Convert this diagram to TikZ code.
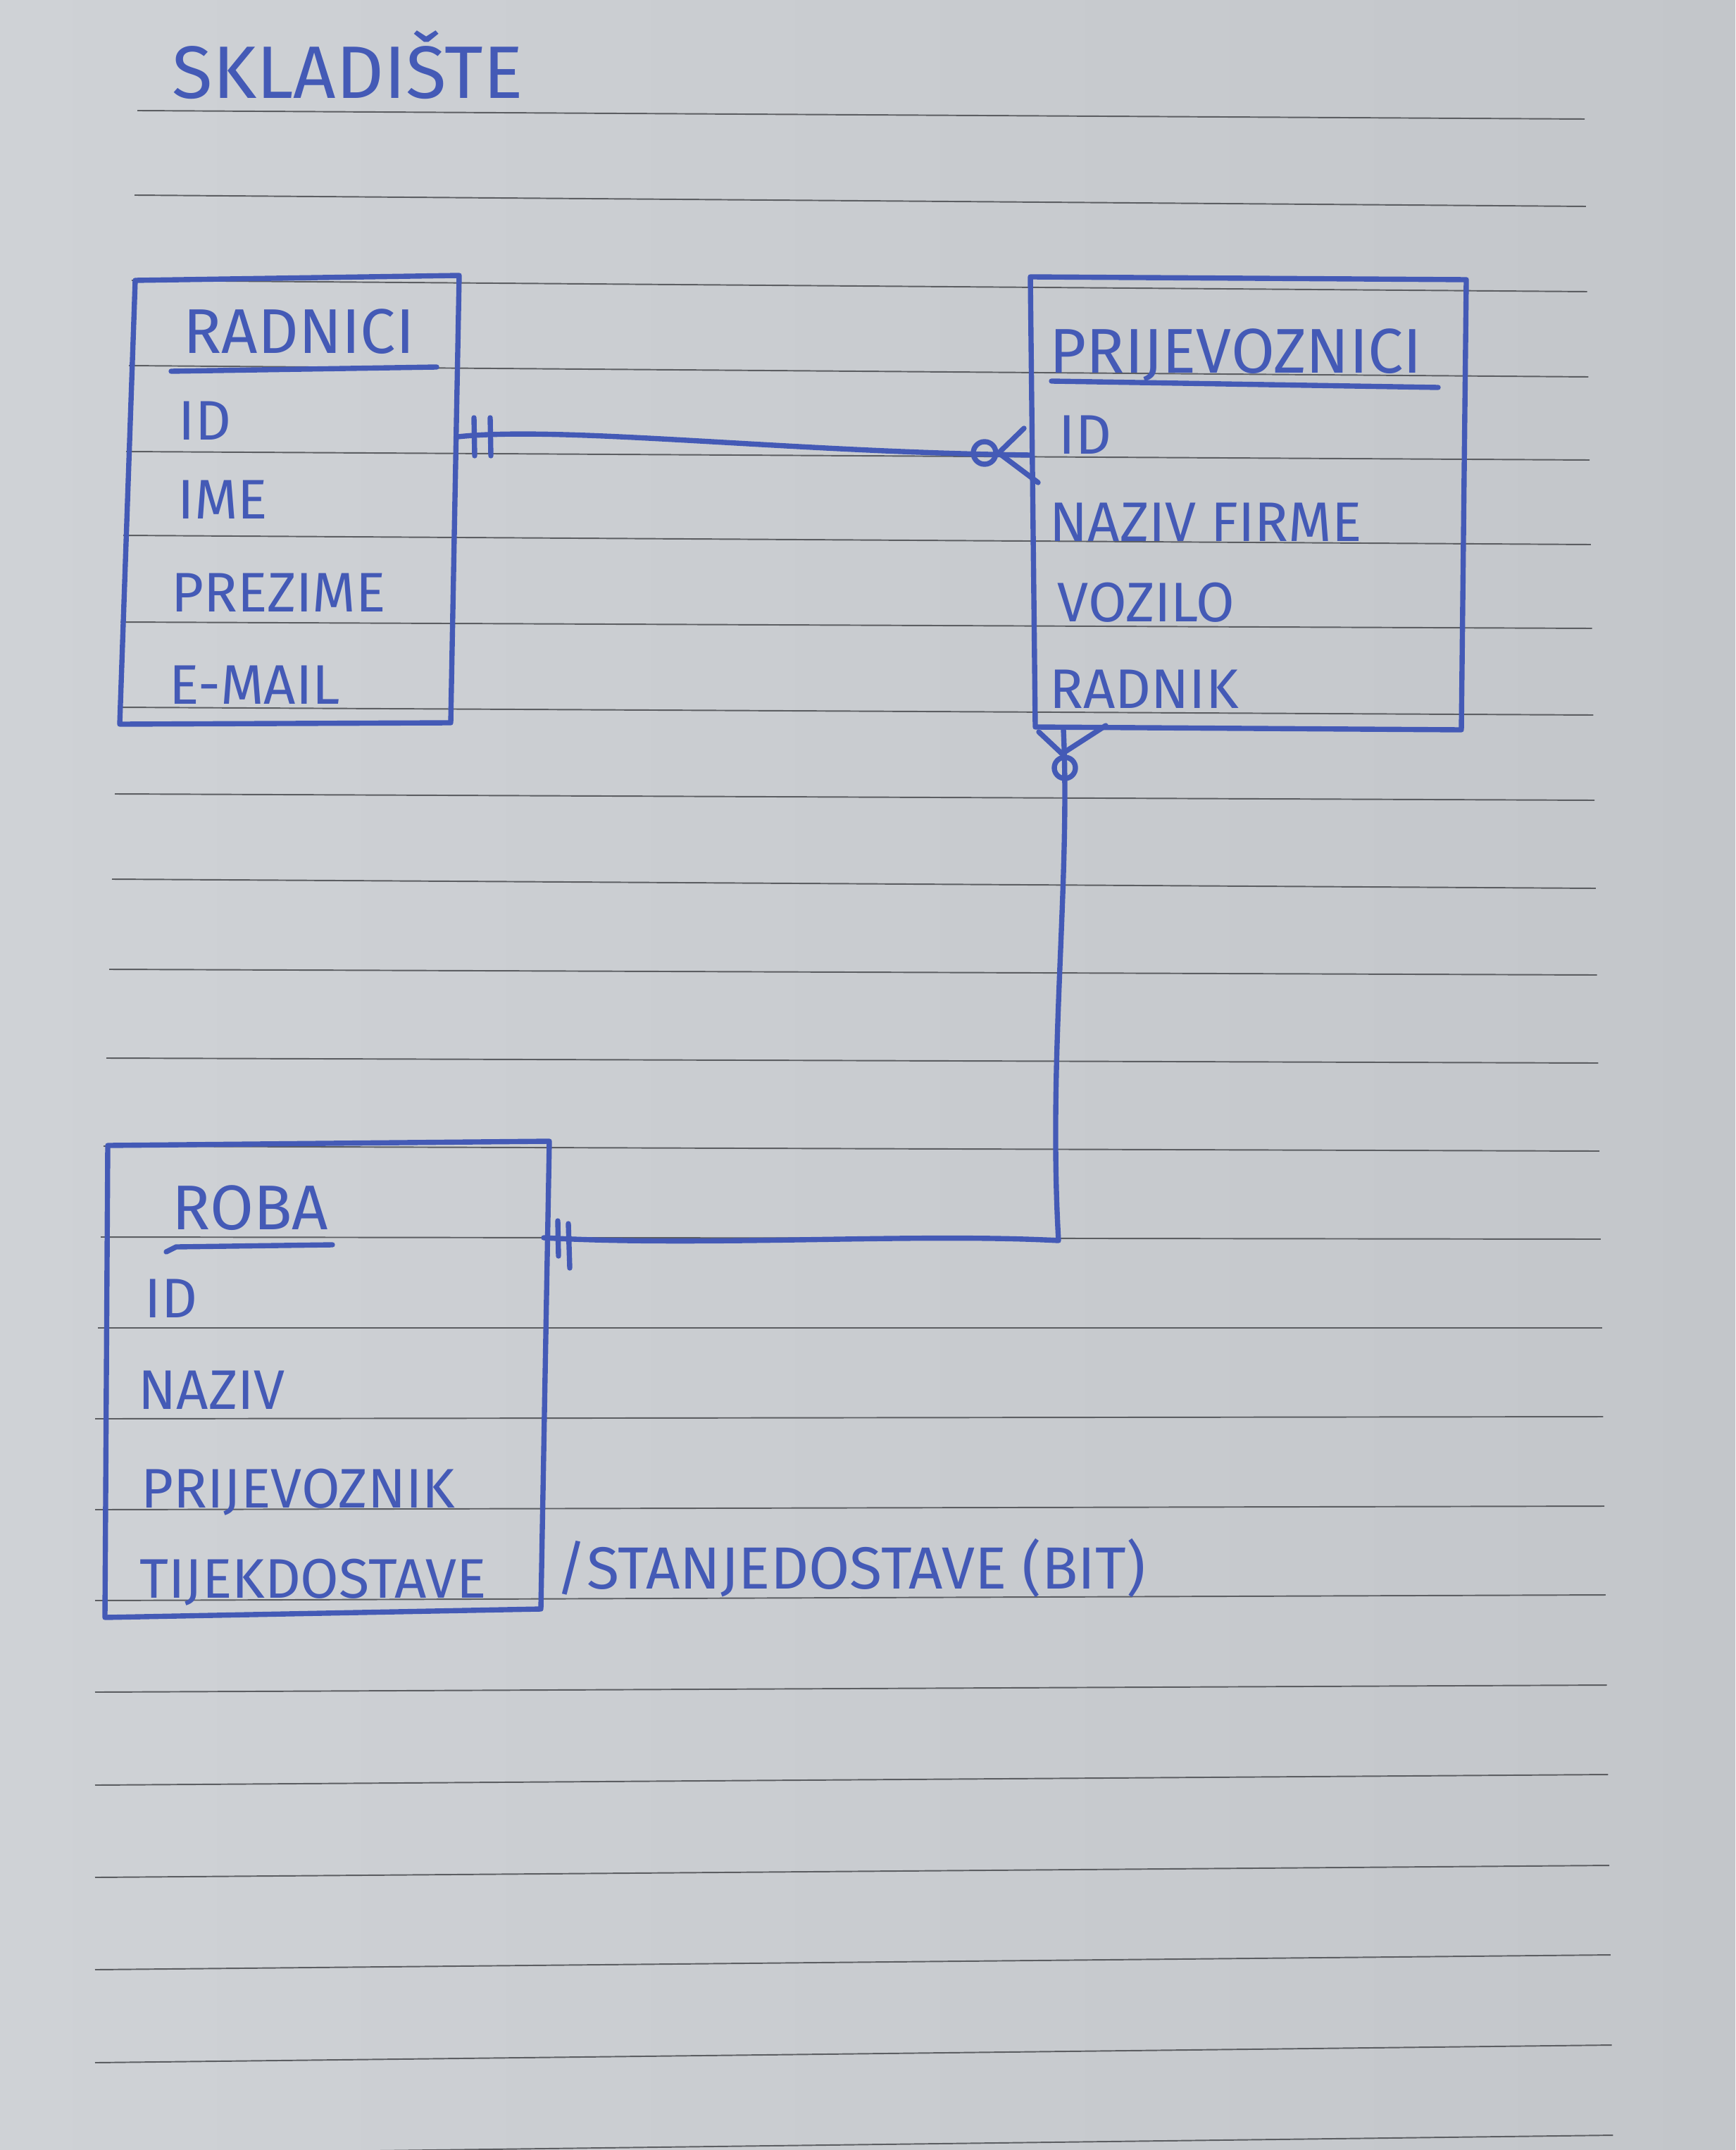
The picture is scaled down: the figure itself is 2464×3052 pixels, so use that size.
\documentclass[tikz,border=0pt]{standalone}
\usepackage{fontspec}
\setmainfont{Fira Sans}
\usetikzlibrary{calc}
\definecolor{ink}{RGB}{68,90,182}
\definecolor{ruling}{RGB}{92,94,98}
\definecolor{paperL}{RGB}{207,210,214}
\definecolor{paperR}{RGB}{195,198,202}
\tikzset{
 pen/.style={draw=ink,line width=2.1pt,line cap=round,line join=round},
 ruled/.style={draw=ruling,line width=.55pt},
 pagetitle/.style={anchor=base west,inner sep=0,text=ink,font=\fontsize{30}{36}\selectfont},
 entityname/.style={anchor=base west,inner sep=0,text=ink,font=\fontsize{25.5}{30}\selectfont},
 field/.style={anchor=base west,inner sep=0,text=ink,font=\fontsize{22.5}{27}\selectfont},
 sidenote/.style={anchor=base west,inner sep=0,text=ink,font=\fontsize{24}{29}\selectfont}
}

\begin{document}
\begin{tikzpicture}[x=.01cm,y=-.01cm]
\useasboundingbox (0,0) rectangle (2464,3052);
\clip (0,0) rectangle (2464,3052);
\shade[left color=paperL,right color=paperR] (0,0) rectangle (2464,3052);
% ruled paper
\foreach \yl/\yr [count=\i from 0] in {157/169,277/293,398/414,519/535,641/653,760/773,883/892,1004/1015,1127/1136,1248/1261,1376/1384,1502/1509,1627/1634,1756/1759,1885/1885,2014/2011,2143/2138,2272/2264,2402/2392,2534/2519,2665/2648,2796/2775,2928/2903,3058/3031}
 \draw[ruled] ({max(135,195-4*\i)},\yl) -- ({2250+1.75*\i},\yr);
\node[pagetitle] (title) at (244,140) {SKLADIŠTE};
% RADNICI
\coordinate (radNW) at (192,398);
\coordinate (radNE) at (652,391);
\coordinate (radSE) at (640,1026);
\coordinate (radSW) at (170,1028);
\draw[pen] (radNW) -- (radNE) -- (radSE) -- (radSW) -- cycle;
\node[entityname] (radTitle) at (260,502) {RADNICI};
\draw[pen] (243,527) -- (620,521);
\node[field] (radId) at (253,624) {ID};
\node[field] (radIme) at (252,736) {IME};
\node[field] (radPrezime) at (243,868) {PREZIME};
\node[field] (radMail) at (240,999) {E-MAIL};
% PRIJEVOZNICI
\coordinate (prijNW) at (1463,393);
\coordinate (prijNE) at (2082,397);
\coordinate (prijSE) at (2075,1036);
\coordinate (prijSW) at (1470,1032);
\draw[pen] (prijNW) -- (prijNE) -- (prijSE) -- (prijSW) -- cycle;
\node[entityname] (prijTitle) at (1490,530) {PRIJEVOZNICI};
\draw[pen] (1493,541) -- (2042,550);
\node[field] (prijId) at (1503,645) {ID};
\node[field] (prijFirma) at (1490,768) {NAZIV FIRME};
\node[field] (prijVozilo) at (1501,882) {VOZILO};
\node[field] (prijRadnik) at (1490,1005) {RADNIK};
% ROBA
\coordinate (robaNW) at (153,1626);
\coordinate (robaNE) at (780,1620);
\coordinate (robaSE) at (768,2284);
\coordinate (robaSW) at (149,2296);
\draw[pen] (robaNW) -- (robaNE) -- (robaSE) -- (robaSW) -- cycle;
\node[entityname] (robaTitle) at (244,1745) {ROBA};
\draw[pen] (236,1777) -- (250,1770) -- (472,1767);
\node[field] (robaId) at (205,1870) {ID};
\node[field] (robaNaziv) at (196,2000) {NAZIV};
\node[field] (robaPrijevoznik) at (200,2140) {PRIJEVOZNIK};
\node[field] (robaTijek) at (198,2268) {TIJEKDOSTAVE};
\node[sidenote] (stanje) at (789,2255) {/STANJEDOSTAVE (BIT)};
% RADNICI -- PRIJEVOZNICI
\coordinate (radE) at (650,620);
\coordinate (prijW) at (1464,646);
\draw[pen] (radE) .. controls (800,604) and (1120,642) .. (prijW);
\draw[pen] (673,593) -- (674,647);
\draw[pen] (696,593) -- (697,647);
\draw[pen] (1398,643) circle[radius=16];
\draw[pen] (1454,608) -- (1418,643) -- (1474,685);
% PRIJEVOZNICI -- ROBA
\coordinate (prijS) at (1510,1036);
\coordinate (bend) at (1503,1761);
\coordinate (robaE) at (772,1757);
\draw[pen] (prijS) .. controls (1520,1250) and (1488,1500) .. (bend)
 .. controls (1300,1750) and (1000,1770) .. (robaE);
\draw[pen] (1475,1039) -- (1508,1070) -- (1570,1030);
\draw[pen] (1512,1090) circle[radius=15];
\draw[pen] (792,1733) -- (793,1783);
\draw[pen] (807,1737) -- (809,1800);
\end{tikzpicture}
\end{document}
